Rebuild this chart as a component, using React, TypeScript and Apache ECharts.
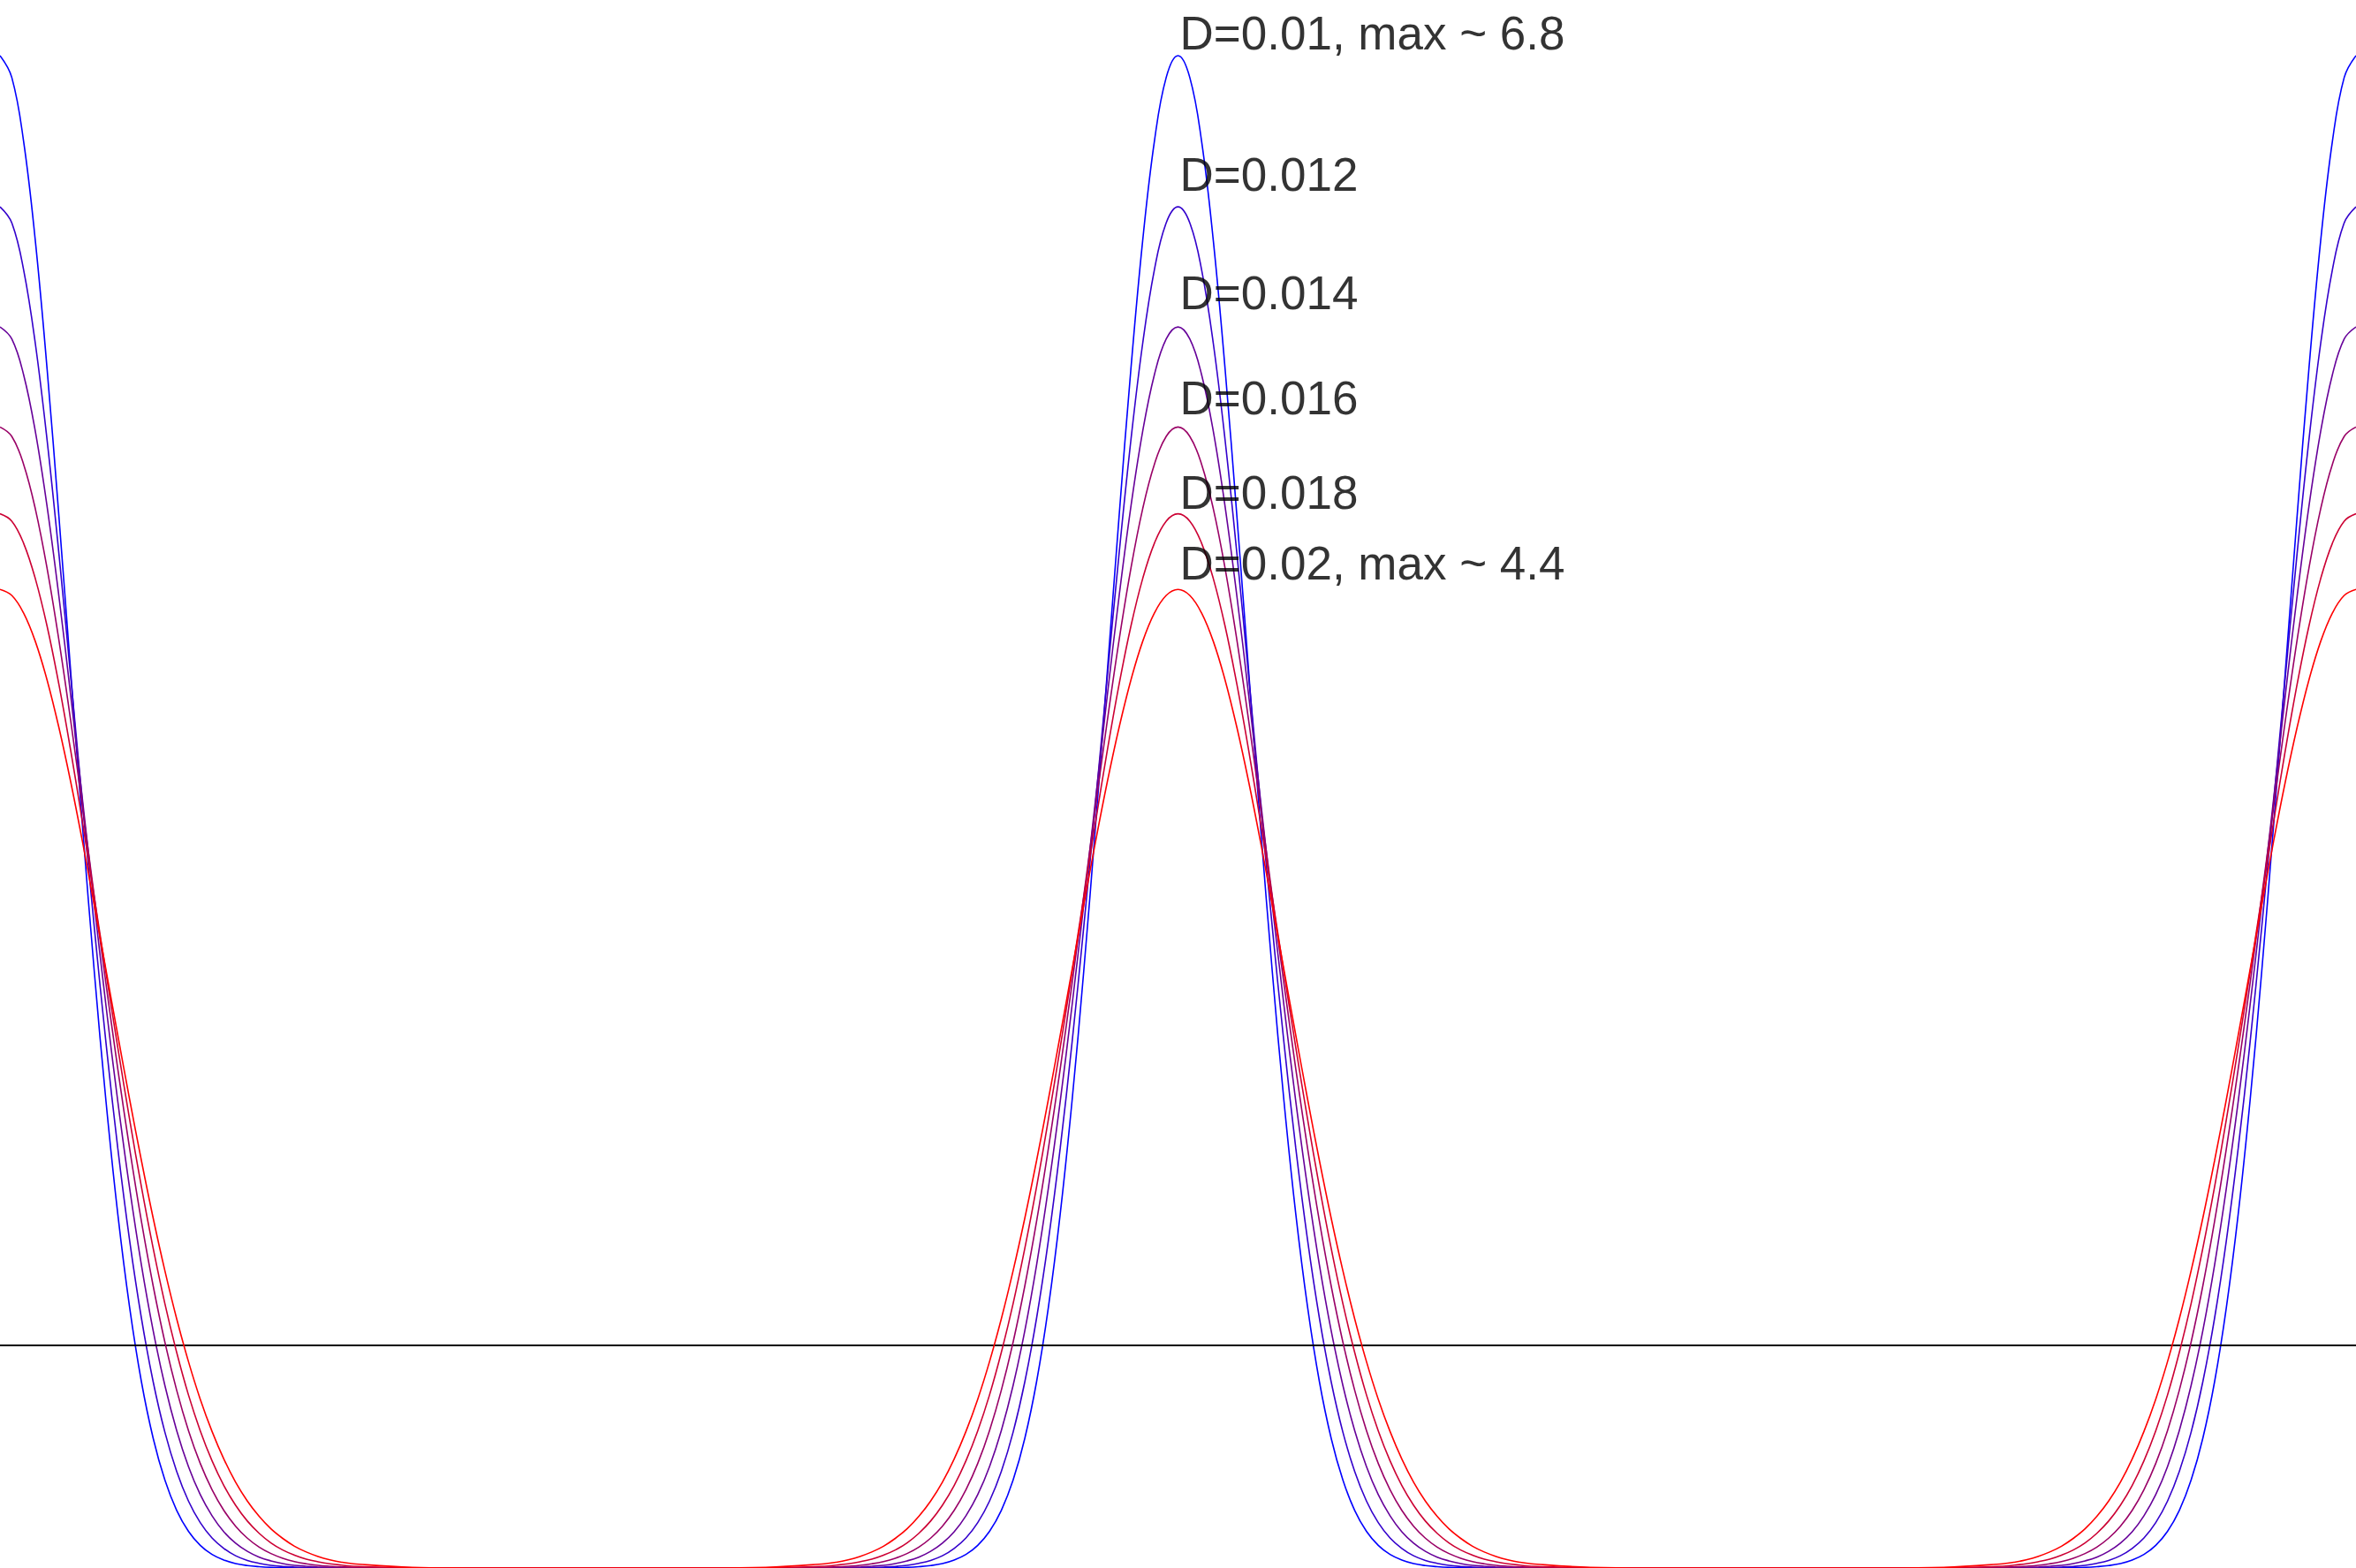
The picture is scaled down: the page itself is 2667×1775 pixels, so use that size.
import React, { useEffect, useRef } from "react";
import * as echarts from "echarts";

const xValues = [
  -1, -0.99, -0.98, -0.97, -0.96, -0.95, -0.94, -0.93, -0.92, -0.91, -0.9, -0.89, -0.88, -0.87, -0.86, -0.85, -0.84, -0.83, -0.82, -0.81, -0.8, -0.79, -0.78, -0.77, -0.76, -0.75, -0.74, -0.73, -0.72, -0.71, -0.7, -0.65, -0.6, -0.55, -0.5,
  -0.45, -0.4, -0.35, -0.3, -0.29, -0.28, -0.27, -0.26, -0.25, -0.24, -0.23, -0.22, -0.21, -0.2, -0.19, -0.18, -0.17, -0.16, -0.15, -0.14, -0.13, -0.12, -0.11, -0.1, -0.09, -0.08, -0.07, -0.06, -0.05, -0.04, -0.03, -0.02, -0.01, 0,
  0.01, 0.02, 0.03, 0.04, 0.05, 0.06, 0.07, 0.08, 0.09, 0.1, 0.11, 0.12, 0.13, 0.14, 0.15, 0.16, 0.17, 0.18, 0.19, 0.2, 0.21, 0.22, 0.23, 0.24, 0.25, 0.26, 0.27, 0.28, 0.29, 0.3, 0.35, 0.4, 0.45, 0.5,
  0.55, 0.6, 0.65, 0.7, 0.71, 0.72, 0.73, 0.74, 0.75, 0.76, 0.77, 0.78, 0.79, 0.8, 0.81, 0.82, 0.83, 0.84, 0.85, 0.86, 0.87, 0.88, 0.89, 0.9, 0.91, 0.92, 0.93, 0.94, 0.95, 0.96, 0.97, 0.98, 0.99, 1,
];

const dValues = ["0.01", "0.012", "0.014", "0.016", "0.018", "0.02"];

const yD010 = [
  6.8, 6.702, 6.416, 5.967, 5.39, 4.729, 4.031, 3.337, 2.684, 2.097, 1.591, 1.173, 0.839, 0.584, 0.395, 0.259, 0.165, 0.102, 0.061, 0.036, 0.02, 0.011, 0.006, 0.003, 0.002, 0.001, 0, 0, 0, 0, 0, 0, 0, 0, 0,
  0, 0, 0, 0, 0, 0, 0, 0, 0.001, 0.002, 0.003, 0.006, 0.011, 0.02, 0.036, 0.061, 0.102, 0.165, 0.259, 0.395, 0.584, 0.839, 1.173, 1.591, 2.097, 2.684, 3.337, 4.031, 4.729, 5.39, 5.967, 6.416, 6.702, 6.8,
  6.702, 6.416, 5.967, 5.39, 4.729, 4.031, 3.337, 2.684, 2.097, 1.591, 1.173, 0.839, 0.584, 0.395, 0.259, 0.165, 0.102, 0.061, 0.036, 0.02, 0.011, 0.006, 0.003, 0.002, 0.001, 0, 0, 0, 0, 0, 0, 0, 0, 0,
  0, 0, 0, 0, 0, 0, 0, 0, 0.001, 0.002, 0.003, 0.006, 0.011, 0.02, 0.036, 0.061, 0.102, 0.165, 0.259, 0.395, 0.584, 0.839, 1.173, 1.591, 2.097, 2.684, 3.337, 4.031, 4.729, 5.39, 5.967, 6.416, 6.702, 6.8,
];

const yD012 = [
  6.12, 6.048, 5.838, 5.505, 5.07, 4.561, 4.007, 3.439, 2.883, 2.36, 1.887, 1.474, 1.125, 0.838, 0.61, 0.434, 0.301, 0.204, 0.135, 0.088, 0.055, 0.034, 0.021, 0.012, 0.007, 0.004, 0.002, 0.001, 0.001, 0, 0, 0, 0, 0, 0,
  0, 0, 0, 0, 0, 0.001, 0.001, 0.002, 0.004, 0.007, 0.012, 0.021, 0.034, 0.055, 0.088, 0.135, 0.204, 0.301, 0.434, 0.61, 0.838, 1.125, 1.474, 1.887, 2.36, 2.883, 3.439, 4.007, 4.561, 5.07, 5.505, 5.838, 6.048, 6.12,
  6.048, 5.838, 5.505, 5.07, 4.561, 4.007, 3.439, 2.883, 2.36, 1.887, 1.474, 1.125, 0.838, 0.61, 0.434, 0.301, 0.204, 0.135, 0.088, 0.055, 0.034, 0.021, 0.012, 0.007, 0.004, 0.002, 0.001, 0.001, 0, 0, 0, 0, 0, 0,
  0, 0, 0, 0, 0, 0.001, 0.001, 0.002, 0.004, 0.007, 0.012, 0.021, 0.034, 0.055, 0.088, 0.135, 0.204, 0.301, 0.434, 0.61, 0.838, 1.125, 1.474, 1.887, 2.36, 2.883, 3.439, 4.007, 4.561, 5.07, 5.505, 5.838, 6.048, 6.12,
];

const yD014 = [
  5.58, 5.526, 5.366, 5.11, 4.772, 4.369, 3.924, 3.455, 2.984, 2.527, 2.098, 1.709, 1.364, 1.068, 0.82, 0.618, 0.456, 0.33, 0.235, 0.163, 0.112, 0.075, 0.049, 0.032, 0.02, 0.012, 0.008, 0.004, 0.003, 0.001, 0.001, 0, 0, 0, 0,
  0, 0, 0, 0.001, 0.001, 0.003, 0.004, 0.008, 0.012, 0.02, 0.032, 0.049, 0.075, 0.112, 0.163, 0.235, 0.33, 0.456, 0.618, 0.82, 1.068, 1.364, 1.709, 2.098, 2.527, 2.984, 3.455, 3.924, 4.369, 4.772, 5.11, 5.366, 5.526, 5.58,
  5.526, 5.366, 5.11, 4.772, 4.369, 3.924, 3.455, 2.984, 2.527, 2.098, 1.709, 1.364, 1.068, 0.82, 0.618, 0.456, 0.33, 0.235, 0.163, 0.112, 0.075, 0.049, 0.032, 0.02, 0.012, 0.008, 0.004, 0.003, 0.001, 0.001, 0, 0, 0, 0,
  0, 0, 0, 0.001, 0.001, 0.003, 0.004, 0.008, 0.012, 0.02, 0.032, 0.049, 0.075, 0.112, 0.163, 0.235, 0.33, 0.456, 0.618, 0.82, 1.068, 1.364, 1.709, 2.098, 2.527, 2.984, 3.455, 3.924, 4.369, 4.772, 5.11, 5.366, 5.526, 5.58,
];

const yD016 = [
  5.13, 5.088, 4.963, 4.762, 4.494, 4.172, 3.81, 3.421, 3.022, 2.626, 2.244, 1.887, 1.56, 1.269, 1.015, 0.799, 0.618, 0.47, 0.352, 0.259, 0.188, 0.134, 0.094, 0.065, 0.044, 0.029, 0.019, 0.012, 0.008, 0.005, 0.003, 0, 0, 0, 0,
  0, 0, 0, 0.003, 0.005, 0.008, 0.012, 0.019, 0.029, 0.044, 0.065, 0.094, 0.134, 0.188, 0.259, 0.352, 0.47, 0.618, 0.799, 1.015, 1.269, 1.56, 1.887, 2.244, 2.626, 3.022, 3.421, 3.81, 4.172, 4.494, 4.762, 4.963, 5.088, 5.13,
  5.088, 4.963, 4.762, 4.494, 4.172, 3.81, 3.421, 3.022, 2.626, 2.244, 1.887, 1.56, 1.269, 1.015, 0.799, 0.618, 0.47, 0.352, 0.259, 0.188, 0.134, 0.094, 0.065, 0.044, 0.029, 0.019, 0.012, 0.008, 0.005, 0.003, 0, 0, 0, 0,
  0, 0, 0, 0.003, 0.005, 0.008, 0.012, 0.019, 0.029, 0.044, 0.065, 0.094, 0.134, 0.188, 0.259, 0.352, 0.47, 0.618, 0.799, 1.015, 1.269, 1.56, 1.887, 2.244, 2.626, 3.022, 3.421, 3.81, 4.172, 4.494, 4.762, 4.963, 5.088, 5.13,
];

const yD018 = [
  4.74, 4.707, 4.608, 4.448, 4.234, 3.973, 3.676, 3.354, 3.017, 2.676, 2.34, 2.018, 1.715, 1.438, 1.188, 0.969, 0.778, 0.617, 0.482, 0.371, 0.282, 0.211, 0.156, 0.113, 0.081, 0.058, 0.04, 0.028, 0.019, 0.013, 0.008, 0.001, 0, 0, 0,
  0, 0, 0.001, 0.008, 0.013, 0.019, 0.028, 0.04, 0.058, 0.081, 0.113, 0.156, 0.211, 0.282, 0.371, 0.482, 0.617, 0.778, 0.969, 1.188, 1.438, 1.715, 2.018, 2.34, 2.676, 3.017, 3.354, 3.676, 3.973, 4.234, 4.448, 4.608, 4.707, 4.74,
  4.707, 4.608, 4.448, 4.234, 3.973, 3.676, 3.354, 3.017, 2.676, 2.34, 2.018, 1.715, 1.438, 1.188, 0.969, 0.778, 0.617, 0.482, 0.371, 0.282, 0.211, 0.156, 0.113, 0.081, 0.058, 0.04, 0.028, 0.019, 0.013, 0.008, 0.001, 0, 0, 0,
  0, 0, 0.001, 0.008, 0.013, 0.019, 0.028, 0.04, 0.058, 0.081, 0.113, 0.156, 0.211, 0.282, 0.371, 0.482, 0.617, 0.778, 0.969, 1.188, 1.438, 1.715, 2.018, 2.34, 2.676, 3.017, 3.354, 3.676, 3.973, 4.234, 4.448, 4.608, 4.707, 4.74,
];

const yD020 = [
  4.4, 4.373, 4.294, 4.166, 3.992, 3.779, 3.535, 3.266, 2.981, 2.688, 2.395, 2.108, 1.833, 1.574, 1.336, 1.12, 0.928, 0.759, 0.614, 0.49, 0.386, 0.301, 0.232, 0.176, 0.133, 0.098, 0.072, 0.052, 0.037, 0.026, 0.019, 0.003, 0, 0, 0,
  0, 0, 0.003, 0.019, 0.026, 0.037, 0.052, 0.072, 0.098, 0.133, 0.176, 0.232, 0.301, 0.386, 0.49, 0.614, 0.759, 0.928, 1.12, 1.336, 1.574, 1.833, 2.108, 2.395, 2.688, 2.981, 3.266, 3.535, 3.779, 3.992, 4.166, 4.294, 4.373, 4.4,
  4.373, 4.294, 4.166, 3.992, 3.779, 3.535, 3.266, 2.981, 2.688, 2.395, 2.108, 1.833, 1.574, 1.336, 1.12, 0.928, 0.759, 0.614, 0.49, 0.386, 0.301, 0.232, 0.176, 0.133, 0.098, 0.072, 0.052, 0.037, 0.026, 0.019, 0.003, 0, 0, 0,
  0, 0, 0.003, 0.019, 0.026, 0.037, 0.052, 0.072, 0.098, 0.133, 0.176, 0.232, 0.301, 0.386, 0.49, 0.614, 0.759, 0.928, 1.12, 1.336, 1.574, 1.833, 2.108, 2.395, 2.688, 2.981, 3.266, 3.535, 3.779, 3.992, 4.166, 4.294, 4.373, 4.4,
];

const seriesValues = [yD010, yD012, yD014, yD016, yD018, yD020];
const lineColors = ["#0000ff", "#3300cc", "#660099", "#990066", "#cc0033", "#ff0000"];

const labelTexts = [
  "D=0.01, max ~ 6.8",
  "D=0.012",
  "D=0.014",
  "D=0.016",
  "D=0.018",
  "D=0.02, max ~ 4.4",
];
const labelX = 0;
const labelY = [6.9, 6.265, 5.733, 5.259, 4.837, 4.518];
const meanLevel = 1;

export default function App() {
  const ref = useRef<HTMLDivElement>(null);
  useEffect(() => {
    document.body.style.margin = "0";
    if (!ref.current) return;
    const chart = echarts.init(ref.current, null, { renderer: "svg" });
    const lines = seriesValues.map((ys, i) => ({
      type: "line",
      name: "D=" + dValues[i],
      data: xValues.map((x, j) => [x, ys[j]]),
      showSymbol: false,
      symbol: "none",
      smooth: 0.4,
      lineStyle: { color: lineColors[i], width: 1.6 },
      z: 2 + i,
      silent: true,
      markLine:
        i === 0
          ? {
              silent: true,
              symbol: "none",
              label: { show: false },
              lineStyle: { color: "#000", width: 2, type: "solid" },
              data: [{ yAxis: meanLevel }],
            }
          : undefined,
    }));
    chart.setOption({
      animation: false,
      backgroundColor: "#ffffff",
      grid: { left: 0, right: 0, top: 0, bottom: 0 },
      xAxis: { type: "value", min: -1, max: 1, show: false },
      yAxis: { type: "value", min: 0, max: 7.05, show: false },
      series: [
        ...lines,
        {
          type: "scatter",
          data: labelY.map((y, i) => ({ value: [labelX, y], name: labelTexts[i] })),
          symbolSize: 0,
          silent: true,
          z: 20,
          label: {
            show: true,
            position: "right",
            distance: 2,
            formatter: (p: any) => p.name,
            fontFamily: "Liberation Sans, Arial, sans-serif",
            fontSize: 53,
            color: "#000000",
          },
        },
      ],
    });
    return () => chart.dispose();
  }, []);
  return <div ref={ref} style={{ width: 2667, height: 1775 }} />;
}
